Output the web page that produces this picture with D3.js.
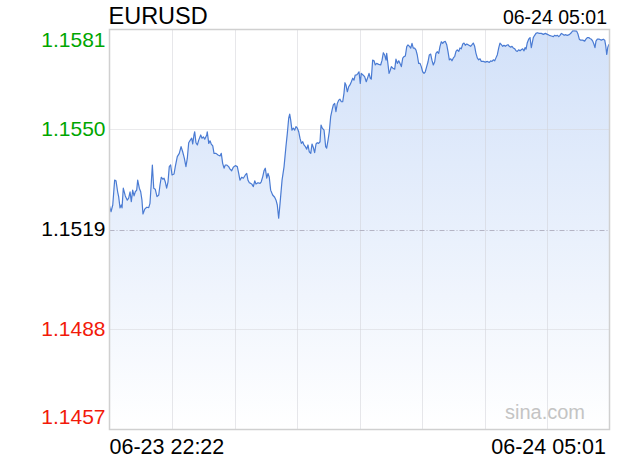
<!DOCTYPE html>
<html>
<head>
<meta charset="utf-8">
<script src="https://cdn.jsdelivr.net/npm/d3@7"></script>
<style>
  html, body { margin: 0; padding: 0; background: #ffffff; }
  svg { display: block; font-family: "Liberation Sans", Arial, Helvetica, sans-serif; }
</style>
</head>
<body>
<svg id="chart" width="620" height="460"></svg>
<script>
// ---- data ----
const symbol = "EURUSD";
const startLabel = "06-23 22:22";
const endLabel = "06-24 05:01";
const totalMinutes = 399;           // 22:22 -> 05:01
const prevClose = 1.1519;
const yTicks = [1.1581, 1.1550, 1.1519, 1.1488, 1.1457];

// minutes after 22:22
const minutes = [
  0,1.2,2.6,4.1,5.2,6.5,7.3,8.4,9.4,10.0,11.0,12.6,14.2,15.3,16.4,17.4,18.5,19.6,20.6,21.7,
  22.5,23.8,24.9,25.9,26.7,28.1,29.7,31.3,32.3,33.4,34.2,35.3,36.5,37.9,39.3,40.3,41.3,42.5,43.5,44.5,
  45.6,46.7,47.7,48.8,49.9,51.5,52.5,54.1,55.7,57.1,58.4,59.7,61.0,62.1,63.2,64.5,65.6,66.4,67.4,68.0,
  69.0,70.1,71.2,72.8,73.8,74.9,76.0,77.6,78.0,79.2,80.2,81.2,82.4,83.4,85.0,86.6,88.2,89.2,90.3,91.4,
  92.4,93.5,95.1,96.2,97.5,98.8,100.4,102.0,103.1,104.1,105.5,106.8,108.4,109.5,110.5,111.6,112.7,113.7,114.8,115.9,
  116.9,118.5,120.1,121.1,122.3,123.3,124.3,125.5,126.5,127.5,128.6,130.2,131.8,132.9,133.9,135.0,136.1,137.7,139.3,140.8,
  141.9,143.0,143.8,144.6,145.6,146.7,147.8,148.8,149.9,151.0,152.0,153.1,154.2,155.2,156.3,157.4,158.4,159.4,160.6,161.6,
  162.6,163.7,164.8,165.8,166.9,168.0,168.8,169.8,171.2,172.5,173.3,174.4,175.4,176.5,177.6,178.6,179.7,180.7,181.8,182.9,
  183.9,185.0,186.1,187.1,187.9,188.7,189.8,190.9,191.9,193.0,194.1,195.1,196.1,197.3,198.3,199.1,200.1,200.9,202.3,203.6,
  204.9,206.3,207.1,208.1,208.9,210.0,211.1,212.1,213.2,214.8,216.4,217.5,218.5,219.6,220.7,221.2,222.3,223.1,224.1,224.9,
  226.2,227.6,228.6,229.7,230.8,231.8,232.9,234.0,235.0,236.1,237.2,238.2,239.6,240.4,241.4,242.4,243.5,244.6,245.6,246.7,
  247.8,248.8,249.9,251.0,252.0,253.1,254.2,255.2,256.3,257.3,258.4,259.5,260.5,261.6,262.7,263.7,264.8,265.9,266.9,268.0,
  269.1,270.1,271.2,272.3,273.3,274.4,275.5,276.5,277.5,278.7,279.7,280.7,281.9,282.9,283.9,285.0,286.1,288.2,289.3,290.3,
  291.4,292.4,293.5,294.6,295.7,296.7,298.3,299.9,301.5,303.1,304.2,305.2,306.3,307.4,308.4,309.5,310.6,311.6,312.7,313.8,
  314.8,315.9,317.0,318.0,319.0,320.2,321.2,322.2,323.4,324.4,325.4,326.5,327.6,328.6,329.7,330.8,331.6,332.4,333.4,334.5,
  335.6,336.1,336.6,337.4,338.2,339.3,340.3,341.4,343.0,344.6,346.2,347.8,349.4,351.0,352.6,354.2,355.3,356.3,357.3,358.5,
  359.5,360.6,361.7,362.8,363.7,365.3,366.9,368.5,369.6,371.2,372.8,373.9,374.9,376.0,377.6,379.2,380.2,381.3,382.4,383.4,
  384.5,385.6,386.6,387.4,388.2,389.3,390.9,392.5,394.1,395.2,396.0,396.8,397.6,398.6
];

const prices = [
  1.15263,1.15245,1.15266,1.15343,1.15341,1.15307,1.15292,1.15257,1.15266,1.15257,1.15318,1.15294,1.15281,1.15287,1.15307,1.15276,1.15312,1.15294,1.15307,1.15312,
  1.15343,1.15318,1.15307,1.15281,1.15238,1.15253,1.15259,1.15258,1.15271,1.15338,1.15390,1.15318,1.15315,1.15292,1.15297,1.15328,1.15352,1.15346,1.15349,1.15338,
  1.15318,1.15338,1.15385,1.15390,1.15359,1.15362,1.15385,1.15416,1.15426,1.15447,1.15431,1.15411,1.15385,1.15411,1.15459,1.15467,1.15473,1.15455,1.15483,1.15493,
  1.15459,1.15452,1.15467,1.15483,1.15473,1.15477,1.15470,1.15483,1.15493,1.15457,1.15465,1.15455,1.15449,1.15426,1.15426,1.15421,1.15418,1.15426,1.15395,1.15380,
  1.15390,1.15390,1.15385,1.15377,1.15372,1.15383,1.15388,1.15385,1.15364,1.15343,1.15352,1.15349,1.15359,1.15364,1.15343,1.15335,1.15333,1.15330,1.15323,1.15341,
  1.15331,1.15335,1.15333,1.15338,1.15354,1.15372,1.15380,1.15349,1.15364,1.15352,1.15312,1.15297,1.15290,1.15281,1.15266,1.15225,1.15271,1.15343,1.15385,1.15447,
  1.15488,1.15535,1.15548,1.15529,1.15498,1.15504,1.15498,1.15509,1.15504,1.15493,1.15473,1.15457,1.15462,1.15452,1.15447,1.15439,1.15452,1.15431,1.15426,1.15455,
  1.15445,1.15428,1.15455,1.15459,1.15457,1.15462,1.15514,1.15504,1.15498,1.15447,1.15442,1.15467,1.15493,1.15540,1.15560,1.15576,1.15581,1.15555,1.15581,1.15591,
  1.15594,1.15586,1.15586,1.15612,1.15645,1.15638,1.15617,1.15633,1.15638,1.15648,1.15659,1.15653,1.15669,1.15669,1.15674,1.15679,1.15643,1.15674,1.15669,1.15664,
  1.15648,1.15664,1.15674,1.15659,1.15656,1.15715,1.15713,1.15700,1.15705,1.15702,1.15700,1.15715,1.15738,1.15731,1.15715,1.15736,1.15700,1.15674,1.15684,1.15695,
  1.15690,1.15687,1.15718,1.15705,1.15713,1.15705,1.15695,1.15721,1.15726,1.15728,1.15757,1.15762,1.15757,1.15752,1.15767,1.15752,1.15752,1.15746,1.15731,1.15705,
  1.15705,1.15695,1.15679,1.15674,1.15679,1.15695,1.15710,1.15731,1.15734,1.15715,1.15700,1.15710,1.15736,1.15741,1.15736,1.15757,1.15772,1.15767,1.15772,1.15773,
  1.15763,1.15742,1.15716,1.15719,1.15713,1.15722,1.15727,1.15742,1.15747,1.15742,1.15753,1.15750,1.15765,1.15768,1.15761,1.15765,1.15763,1.15758,1.15763,1.15768,
  1.15758,1.15737,1.15722,1.15716,1.15719,1.15711,1.15711,1.15709,1.15711,1.15708,1.15713,1.15711,1.15716,1.15713,1.15722,1.15732,1.15753,1.15768,1.15763,1.15758,
  1.15761,1.15758,1.15761,1.15763,1.15758,1.15755,1.15758,1.15753,1.15750,1.15744,1.15742,1.15747,1.15744,1.15747,1.15750,1.15744,1.15754,1.15749,1.15769,1.15780,
  1.15785,1.15769,1.15754,1.15769,1.15785,1.15792,1.15798,1.15800,1.15798,1.15798,1.15795,1.15798,1.15795,1.15792,1.15790,1.15788,1.15792,1.15790,1.15792,1.15788,
  1.15792,1.15798,1.15795,1.15792,1.15794,1.15792,1.15794,1.15800,1.15806,1.15806,1.15805,1.15795,1.15780,1.15777,1.15777,1.15774,1.15780,1.15785,1.15785,1.15782,
  1.15780,1.15774,1.15764,1.15754,1.15774,1.15780,1.15780,1.15777,1.15780,1.15777,1.15759,1.15733,1.15754,1.15764
];

// ---- layout ----
const W = 620, H = 460;
const plot = { left: 109.5, right: 609.5, top: 29.5, bottom: 429.5 };
const vDivisions = 8;

const svg = d3.select("#chart");

const x = d3.scaleLinear().domain([0, totalMinutes]).range([plot.left, plot.right]);
const y = d3.scaleLinear().domain([yTicks[yTicks.length - 1], yTicks[0]]).range([plot.bottom, plot.top]);

const data = minutes.map((m, i) => ({ m, p: prices[i] }));

// gradient
const defs = svg.append("defs");
const grad = defs.append("linearGradient")
  .attr("id", "fillGrad")
  .attr("gradientUnits", "userSpaceOnUse")
  .attr("x1", 0).attr("x2", 0)
  .attr("y1", plot.top).attr("y2", plot.bottom);
grad.append("stop").attr("offset", "0%").attr("stop-color", "#d2e1f9");
grad.append("stop").attr("offset", "100%").attr("stop-color", "#ffffff");

// area
svg.append("path")
  .datum(data)
  .attr("fill", "url(#fillGrad)")
  .attr("d", d3.area().x(d => x(d.m)).y0(plot.bottom).y1(d => y(d.p)));

// vertical gridlines
const vTicks = d3.range(1, vDivisions).map(k => k * totalMinutes / vDivisions);
svg.append("g").selectAll("line")
  .data(vTicks).join("line")
  .attr("x1", d => Math.round(x(d)) + 0.5).attr("x2", d => Math.round(x(d)) + 0.5)
  .attr("y1", plot.top).attr("y2", plot.bottom)
  .attr("stroke", "#cfcfd4").attr("stroke-width", 1)
  .attr("stroke-dasharray", "1,1");

// horizontal gridlines (inner ticks)
svg.append("g").selectAll("line")
  .data(yTicks.slice(1, -1)).join("line")
  .attr("x1", plot.left).attr("x2", plot.right)
  .attr("y1", d => Math.round(y(d)) + 0.5).attr("y2", d => Math.round(y(d)) + 0.5)
  .attr("stroke", d => d === prevClose ? "#b4b4c4" : "#d4d4d8")
  .attr("stroke-width", 1)
  .attr("stroke-dasharray", d => d === prevClose ? "5,2,1,2" : "1,1");

// line
svg.append("path")
  .datum(data)
  .attr("fill", "none")
  .attr("stroke", "#4a7bd3")
  .attr("stroke-width", 1.2)
  .attr("stroke-linejoin", "round")
  .attr("d", d3.line().x(d => x(d.m)).y(d => y(d.p)));

// frame
svg.append("rect")
  .attr("x", plot.left).attr("y", plot.top)
  .attr("width", plot.right - plot.left).attr("height", plot.bottom - plot.top)
  .attr("fill", "none").attr("stroke", "#d0d0d0").attr("stroke-width", 1.5);

// y labels
svg.append("g").selectAll("text")
  .data(yTicks).join("text")
  .attr("x", 105.5)
  .attr("y", d => Math.min(Math.max(y(d) + 6, plot.top + 17), plot.bottom - 5.5))
  .attr("text-anchor", "end")
  .attr("font-size", 21)
  .attr("fill", d => d > prevClose ? "#00a600" : (d < prevClose ? "#f21a0a" : "#000000"))
  .text(d => d.toFixed(4));

// title & time
svg.append("text").attr("x", 108.5).attr("y", 24).attr("font-size", 23.5).attr("fill", "#000").text(symbol);
svg.append("text").attr("x", 607).attr("y", 24).attr("font-size", 19.5).attr("text-anchor", "end").attr("fill", "#000").text(endLabel);

// x labels
svg.append("text").attr("x", 109.5).attr("y", 454).attr("font-size", 21.5).attr("fill", "#000").text(startLabel);
svg.append("text").attr("x", 606).attr("y", 454).attr("font-size", 21.5).attr("text-anchor", "end").attr("fill", "#000").text(endLabel);

// watermark
svg.append("text").attr("x", 585).attr("y", 419).attr("font-size", 20).attr("text-anchor", "end").attr("fill", "#c4c4c4").text("sina.com");
</script>
</body>
</html>
